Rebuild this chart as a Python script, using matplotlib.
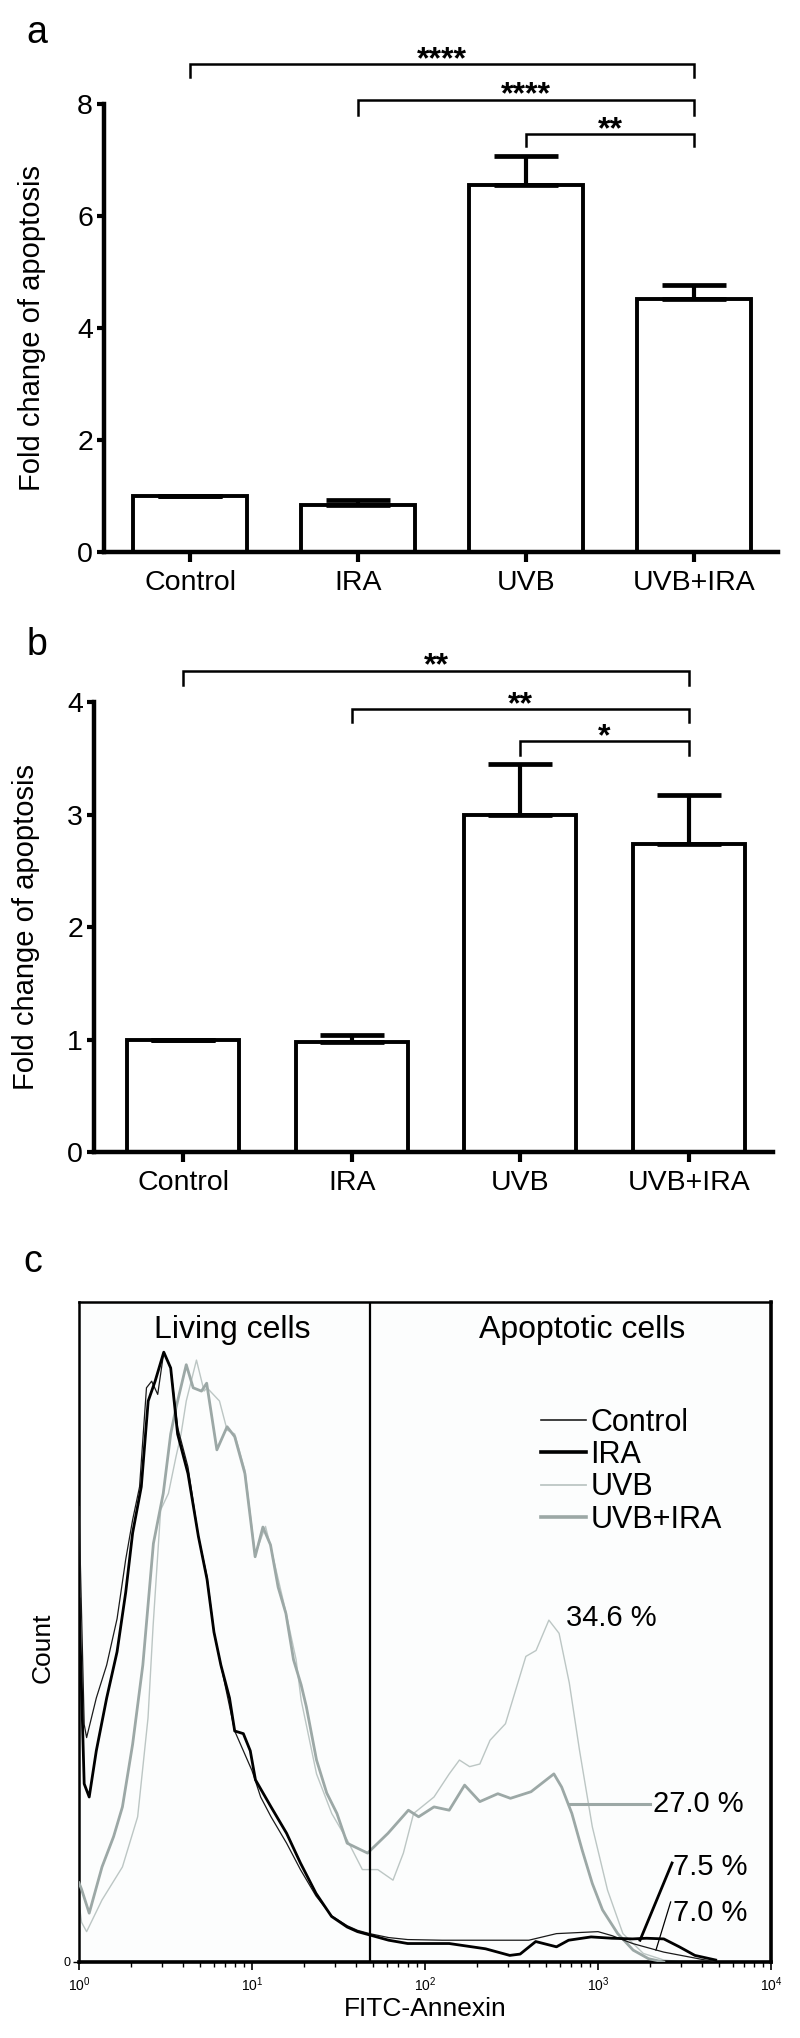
import numpy as np
import matplotlib
matplotlib.use("Agg")
import matplotlib.pyplot as plt

plt.rcParams['font.family'] = ['Liberation Sans', 'DejaVu Sans']
plt.rcParams['mathtext.fontset'] = 'custom'
plt.rcParams['mathtext.rm'] = 'Liberation Sans'

# ---------------- data ----------------
categories = ["Control", "IRA", "UVB", "UVB+IRA"]

a_means = [1.0, 0.84, 6.56, 4.52]
a_err = [0.0, 0.08, 0.52, 0.24]
a_pairs = [(0, 3), (1, 3), (2, 3)]
a_stars = ["****", "****", "**"]
a_bracket_y = [8.72, 8.08, 7.47]
a_bracket_drop = [8.49, 7.81, 7.25]

b_means = [1.0, 0.98, 3.0, 2.74]
b_err = [0.0, 0.06, 0.45, 0.43]
b_pairs = [(0, 3), (1, 3), (2, 3)]
b_stars = ["**", "**", "*"]
b_bracket_y = [4.28, 3.94, 3.65]
b_bracket_drop = [4.15, 3.82, 3.53]

# flow cytometry histograms: log10(FITC-Annexin) and relative count
ctrl_logx = [0.0, 0.03, 0.044, 0.10, 0.16, 0.22, 0.27, 0.31, 0.35, 0.39, 0.42, 0.455, 0.49, 0.53,
             0.57, 0.63, 0.69, 0.74, 0.78, 0.82, 0.86, 0.90, 0.95, 1.0, 1.05, 1.11, 1.2, 1.28, 1.37,
             1.46, 1.55, 1.61, 1.68, 1.79, 1.9, 2.1, 2.3, 2.6, 2.76, 3.0, 3.08, 3.2, 3.38, 3.56, 3.68]
ctrl_count = [0.69, 0.36, 0.34, 0.40, 0.45, 0.52, 0.61, 0.67, 0.72, 0.87, 0.88, 0.86, 0.924, 0.90,
              0.81, 0.75, 0.645, 0.584, 0.50, 0.45, 0.40, 0.35, 0.32, 0.29, 0.25, 0.22, 0.18, 0.14, 0.10,
              0.07, 0.055, 0.048, 0.043, 0.037, 0.034, 0.033, 0.033, 0.033, 0.043, 0.046, 0.04, 0.028,
              0.015, 0.006, 0.0]

ira_logx = [0.0, 0.03, 0.059, 0.10, 0.16, 0.22, 0.27, 0.31, 0.36, 0.40, 0.44, 0.49, 0.53, 0.57,
            0.63, 0.69, 0.74, 0.78, 0.82, 0.87, 0.90, 0.95, 0.99, 1.02, 1.11, 1.2, 1.28, 1.37, 1.46,
            1.55, 1.61, 1.68, 1.79, 1.9, 2.14, 2.35, 2.49, 2.55, 2.64, 2.76, 2.83, 2.96, 3.08, 3.2,
            3.28, 3.38, 3.47, 3.56, 3.68]
ira_count = [0.55, 0.27, 0.25, 0.32, 0.40, 0.47, 0.56, 0.65, 0.72, 0.85, 0.88, 0.924, 0.90, 0.80,
             0.74, 0.645, 0.58, 0.50, 0.45, 0.40, 0.35, 0.346, 0.32, 0.276, 0.235, 0.195, 0.15, 0.104,
             0.069, 0.053, 0.046, 0.041, 0.033, 0.028, 0.028, 0.02, 0.01, 0.012, 0.031, 0.023, 0.033,
             0.038, 0.036, 0.035, 0.036, 0.035, 0.023, 0.01, 0.003]

uvb_logx = [0.0, 0.015, 0.044, 0.133, 0.251, 0.339, 0.399, 0.428, 0.472, 0.517, 0.561, 0.59, 0.62,
            0.679, 0.723, 0.74, 0.812, 0.856, 0.9, 0.959, 1.018, 1.078, 1.107, 1.196, 1.255, 1.284,
            1.373, 1.461, 1.55, 1.638, 1.727, 1.815, 1.875, 1.934, 2.052, 2.14, 2.199, 2.258, 2.317,
            2.376, 2.465, 2.583, 2.642, 2.716, 2.775, 2.834, 2.893, 2.967, 3.055, 3.144, 3.262, 3.38,
            3.5]
uvb_count = [0.09, 0.06, 0.046, 0.094, 0.144, 0.22, 0.37, 0.508, 0.685, 0.71, 0.766, 0.80, 0.85,
             0.912, 0.865, 0.87, 0.85, 0.806, 0.80, 0.745, 0.617, 0.66, 0.63, 0.53, 0.458, 0.397,
             0.285, 0.225, 0.185, 0.14, 0.14, 0.124, 0.165, 0.225, 0.25, 0.285, 0.306, 0.296, 0.30,
             0.336, 0.361, 0.463, 0.472, 0.518, 0.498, 0.423, 0.321, 0.205, 0.109, 0.043, 0.013, 0.003,
             0.0]

uvbira_logx = [0.0, 0.015, 0.059, 0.133, 0.20, 0.251, 0.31, 0.369, 0.43, 0.487, 0.53, 0.561, 0.62,
               0.66, 0.708, 0.738, 0.797, 0.856, 0.9, 0.959, 1.018, 1.063, 1.107, 1.151, 1.196, 1.24,
               1.284, 1.314, 1.373, 1.432, 1.491, 1.55, 1.668, 1.786, 1.904, 1.963, 2.052, 2.14, 2.229,
               2.317, 2.421, 2.494, 2.613, 2.701, 2.745, 2.79, 2.849, 2.908, 2.967, 3.026, 3.114,
               3.203, 3.292, 3.38]
uvbira_count = [0.12, 0.11, 0.074, 0.144, 0.19, 0.235, 0.33, 0.45, 0.634, 0.71, 0.80, 0.84, 0.905,
                0.87, 0.865, 0.877, 0.776, 0.811, 0.796, 0.74, 0.614, 0.659, 0.632, 0.568, 0.528,
                0.458, 0.42, 0.387, 0.306, 0.256, 0.225, 0.18, 0.165, 0.195, 0.23, 0.22, 0.235, 0.23,
                0.268, 0.243, 0.255, 0.248, 0.258, 0.276, 0.285, 0.265, 0.225, 0.17, 0.119, 0.079,
                0.043, 0.018, 0.005, 0.0]

gate_value = 48  # boundary between living and apoptotic cells
pct_labels = ["34.6 %", "27.0 %", "7.5 %", "7.0 %"]

# ---------------- figure ----------------
W, H = 800, 2038
fig = plt.figure(figsize=(W / 100, H / 100), dpi=100)


def ax_rect(left, right, top, bottom):
    return [left / W, 1 - bottom / H, (right - left) / W, (bottom - top) / H]


def bar_panel(ax, means, errs, ymax, yticks, pairs, stars, by, bdrop, xlim, width):
    x = np.arange(len(categories))
    ax.bar(x, means, width=width, color='white', edgecolor='black', linewidth=2.8, zorder=2)
    ax.errorbar(x, means, yerr=[np.zeros(len(errs)), errs], fmt='none', ecolor='black',
                elinewidth=3, capsize=23, capthick=3.4, zorder=3)
    ax.set_xlim(*xlim)
    ax.set_ylim(0, ymax)
    ax.set_yticks(yticks)
    ax.set_xticks(x)
    ax.set_xticklabels(categories, fontsize=20.5)
    ax.tick_params(axis='y', labelsize=20.5, length=5, width=3, pad=3)
    ax.tick_params(axis='x', length=7, width=3, pad=6)
    for s in ['top', 'right']:
        ax.spines[s].set_visible(False)
    for s in ['left', 'bottom']:
        ax.spines[s].set_linewidth(3.2)
    ax.set_ylabel("Fold change of apoptosis", fontsize=21)
    for (i, j), st, yb, yd in zip(pairs, stars, by, bdrop):
        ax.plot([i, i, j, j], [yd, yb, yb, yd], color='black', lw=1.8, clip_on=False,
                solid_joinstyle='miter')
        ax.annotate(st, xy=((i + j) / 2, yb), xytext=(0, -3), textcoords='offset points',
                    ha='center', va='baseline', fontsize=23, fontweight='bold',
                    annotation_clip=False)


# Panel a
ax_a = fig.add_axes(ax_rect(104, 778, 104, 552))
bar_panel(ax_a, a_means, a_err, 8, [0, 2, 4, 6, 8], a_pairs, a_stars, a_bracket_y,
          a_bracket_drop, (-0.512, 3.5), 0.68)
ax_a.yaxis.set_label_coords(-0.086, 0.5)
fig.text(37 / W, 1 - 33 / H, "a", fontsize=27, ha='center', va='center')

# Panel b
ax_b = fig.add_axes(ax_rect(94, 773, 702, 1152))
bar_panel(ax_b, b_means, b_err, 4, [0, 1, 2, 3, 4], b_pairs, b_stars, b_bracket_y,
          b_bracket_drop, (-0.53, 3.5), 0.665)
ax_b.yaxis.set_label_coords(-0.08, 0.5)
fig.text(37 / W, 1 - 645 / H, "b", fontsize=27, ha='center', va='center')

# Panel c
ax_c = fig.add_axes(ax_rect(79, 771, 1302, 1962))
ax_c.set_facecolor('#fcfdfd')
ax_c.set_xscale('log')
ax_c.set_xlim(1, 1e4)
ax_c.set_ylim(0, 1.0)

c_ctrl = '#1a1a1a'
c_ira = '#000000'
c_uvb = '#bcc6c4'
c_uvbira = '#9ca8a6'
ax_c.plot(np.power(10.0, uvb_logx), uvb_count, color=c_uvb, lw=1.0, label='UVB', zorder=2)
ax_c.plot(np.power(10.0, uvbira_logx), uvbira_count, color=c_uvbira, lw=2.0, label='UVB+IRA', zorder=3)
ax_c.plot(np.power(10.0, ctrl_logx), ctrl_count, color=c_ctrl, lw=0.9, label='Control', zorder=4)
ax_c.plot(np.power(10.0, ira_logx), ira_count, color=c_ira, lw=2.0, label='IRA', zorder=5)

ax_c.axvline(gate_value, color='black', lw=1.6, zorder=6)

handles, labels = ax_c.get_legend_handles_labels()
order = [labels.index(l) for l in categories]
leg = ax_c.legend([handles[i] for i in order], [labels[i] for i in order],
                  loc='upper left', bbox_to_anchor=(0.668, 0.84), frameon=False,
                  fontsize=22, handlelength=1.45, handletextpad=0.15, labelspacing=0.08,
                  borderpad=0, borderaxespad=0)
for ln in leg.get_lines():
    ln.set_linewidth(ln.get_linewidth() * 1.3)

ax_c.text(0.221, 0.958, "Living cells", transform=ax_c.transAxes, fontsize=23,
          ha='center', va='center')
ax_c.text(0.727, 0.958, "Apoptotic cells", transform=ax_c.transAxes, fontsize=23,
          ha='center', va='center')

# percentage annotations with leader lines
ax_c.text(10 ** 2.815, 0.521, pct_labels[0], fontsize=21, ha='left', va='center')
ax_c.plot([10 ** 2.832, 10 ** 3.30], [0.239, 0.239], color=c_uvbira, lw=2.2)
ax_c.text(10 ** 3.318, 0.239, pct_labels[1], fontsize=21, ha='left', va='center')
ax_c.plot([10 ** 3.243, 10 ** 3.428], [0.033, 0.15], color='black', lw=2.0)
ax_c.text(10 ** 3.434, 0.144, pct_labels[2], fontsize=21, ha='left', va='center')
ax_c.plot([10 ** 3.335, 10 ** 3.42], [0.018, 0.091], color='black', lw=0.9)
ax_c.text(10 ** 3.434, 0.074, pct_labels[3], fontsize=21, ha='left', va='center')

ax_c.set_yticks([0])
ax_c.set_yticklabels(["0"], fontsize=9)
ax_c.tick_params(axis='y', length=4, width=1, pad=2)
ax_c.set_xticks([1, 10, 100, 1000, 10000])
ax_c.set_xticklabels([r"$10^{0}$", r"$10^{1}$", r"$10^{2}$", r"$10^{3}$", r"$10^{4}$"], fontsize=10)
ax_c.tick_params(axis='x', which='major', length=6, width=1.2, pad=4)
ax_c.tick_params(axis='x', which='minor', length=3.5, width=1.0)
for s in ['left', 'top']:
    ax_c.spines[s].set_linewidth(1.8)
for s in ['right', 'bottom']:
    ax_c.spines[s].set_linewidth(2.6)
ax_c.set_xlabel("FITC-Annexin", fontsize=19, labelpad=2)
ax_c.set_ylabel("Count", fontsize=19)
ax_c.yaxis.set_label_coords(-0.035, 0.476)
fig.text(33 / W, 1 - 1262 / H, "c", fontsize=27, ha='center', va='center')

fig.savefig("out.png", dpi=100, facecolor='white')
